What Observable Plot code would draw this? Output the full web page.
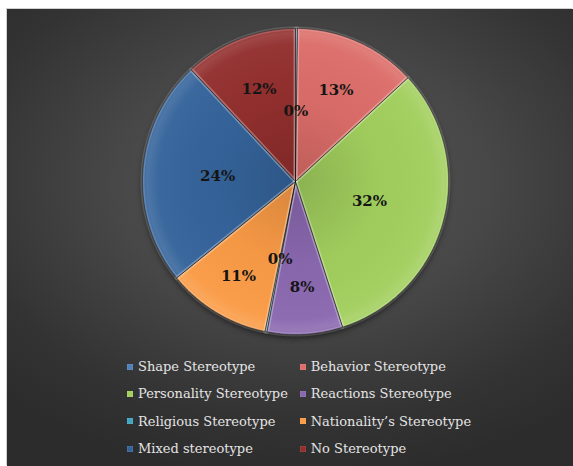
<!DOCTYPE html>
<html><head><meta charset="utf-8">
<script src="https://cdn.jsdelivr.net/npm/d3@7"></script>
<script src="https://cdn.jsdelivr.net/npm/@observablehq/plot@0.6"></script>
<style>
body{margin:0;background:#fff;}
#wrap{position:relative;width:573px;height:466px;overflow:hidden;background:#fff;}
#panel{position:absolute;left:7px;top:9px;width:566px;height:457px;
  background:radial-gradient(ellipse 75% 65% at 52% 38%, #595959 0%, #474747 45%, #333 80%, #2c2c2c 100%);
  box-shadow:-1px -1px 0 #d0d0d0;}
#chart{position:absolute;left:0;top:0;}
#legend{position:absolute;left:120px;top:344px;display:grid;grid-template-columns:172.7px 172.7px;grid-auto-rows:27.3px;
  font-family:"DejaVu Serif",serif;font-size:13px;color:#e4e4e4;}
.item{display:flex;align-items:center;white-space:nowrap;}
.sw{width:6px;height:6px;margin-right:5px;flex:none;box-shadow:inset 0 0 1px rgba(255,255,255,0.6);}
</style></head>
<body><div id="wrap"><div id="panel"><div id="chart"></div><div id="legend"></div></div></div>
<script>
// Data
const categories = ["Shape Stereotype","Behavior Stereotype","Personality Stereotype","Reactions Stereotype","Religious Stereotype","Nationality’s Stereotype","Mixed stereotype","No Stereotype"];
const values = [0.2, 13, 32, 8, 0.2, 11, 24, 12];
const labels = ["0%","13%","32%","8%","0%","11%","24%","12%"];
const colors = ["#4f81bd","#dc6d69","#a2cf5e","#8a68af","#3fa6c2","#fa9b46","#35649b","#922f2e"];

// layout constants (label radius as a fraction of the pie radius)
const labelRadius = [0.46, 0.65, 0.50, 0.69, 0.52, 0.72, 0.51, 0.65];

const rows = categories.map((c,i)=>({name:c, value:values[i], label:labels[i]}));
const arcs = d3.pie().sort(null).value(d=>d.value)(rows);
const pts = [];
arcs.forEach(a=>{
  const n = Math.max(2, Math.ceil((a.endAngle-a.startAngle)/0.01));
  pts.push({name:a.data.name, x:0, y:0});
  for(let i=0;i<=n;i++){const t=a.startAngle+(a.endAngle-a.startAngle)*i/n; pts.push({name:a.data.name, x:Math.sin(t), y:Math.cos(t)});}
  pts.push({name:a.data.name, x:0, y:0});
});
const labelRows = arcs.map((a,i)=>{const m=(a.startAngle+a.endAngle)/2; const r=labelRadius[i]; return {x:r*Math.sin(m), y:r*Math.cos(m), text:a.data.label};});

const cx=288, cy=172, R=153;
const plot = Plot.plot({
  width:566, height:350,
  margin:0,
  x:{domain:[-1,1], range:[cx-R, cx+R], axis:null},
  y:{domain:[-1,1], range:[cy+R, cy-R], axis:null},
  color:{domain:categories, range:colors},
  style:{background:"transparent", overflow:"visible"},
  marks:[
    Plot.line(pts, {x:"x", y:"y", z:"name", fill:"name", stroke:"none", curve:"linear"}),
    Plot.line(pts, {x:"x", y:"y", z:"name", fill:"url(#shade)", stroke:"none", curve:"linear"}),
    Plot.line(pts, {x:"x", y:"y", z:"name", fill:"none", stroke:"#fff", strokeOpacity:0.16, strokeWidth:4, strokeLinejoin:"round", curve:"linear"}),
    Plot.line(pts, {x:"x", y:"y", z:"name", fill:"none", stroke:"#000", strokeOpacity:0.45, strokeWidth:0.8, curve:"linear"}),
    Plot.text(labelRows, {x:"x", y:"y", text:"text", fontFamily:"DejaVu Serif", fontWeight:"bold", fontSize:15, fill:"#151515"})
  ]
});
// gradient definition centred on the pie centre (from the scales)
const X = plot.scale("x"), Y = plot.scale("y");
const px = X.apply(0), py = Y.apply(0), pr = X.apply(1) - X.apply(0);
const ns = "http://www.w3.org/2000/svg";
const defs = document.createElementNS(ns, "defs");
defs.innerHTML = `<radialGradient id="shade" gradientUnits="userSpaceOnUse" cx="${px}" cy="${py}" r="${pr}">
  <stop offset="0" stop-color="#000" stop-opacity="0.14"/>
  <stop offset="0.55" stop-color="#000" stop-opacity="0.02"/>
  <stop offset="0.9" stop-color="#fff" stop-opacity="0.03"/>
  <stop offset="0.97" stop-color="#fff" stop-opacity="0.12"/>
  <stop offset="1" stop-color="#fff" stop-opacity="0.05"/>
</radialGradient>`;
plot.insertBefore(defs, plot.firstChild);
document.getElementById("chart").appendChild(plot);
const lineG = plot.querySelector('g[aria-label="line"]');
if(lineG) lineG.style.filter = "drop-shadow(0px 3px 3px rgba(0,0,0,0.6))";

const leg = document.getElementById("legend");
categories.forEach((c,i)=>{
  const it=document.createElement("div"); it.className="item";
  const sw=document.createElement("span"); sw.className="sw"; sw.style.background=colors[i];
  const tx=document.createElement("span"); tx.textContent=c;
  it.appendChild(sw); it.appendChild(tx); leg.appendChild(it);
});
</script></body></html>
